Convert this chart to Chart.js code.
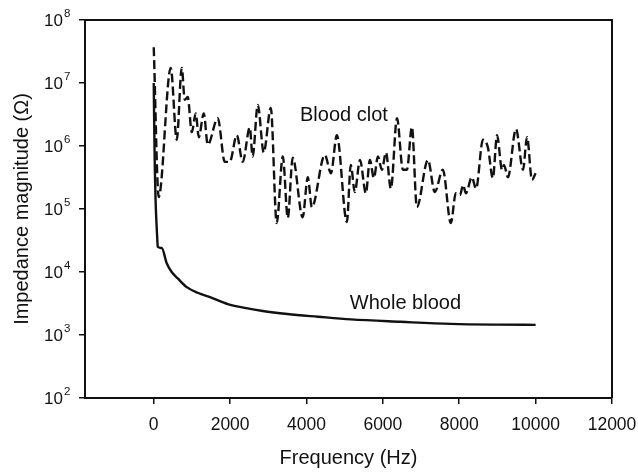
<!DOCTYPE html>
<html>
<head>
<meta charset="utf-8">
<script src="https://cdn.jsdelivr.net/npm/chart.js@4.4.1/dist/chart.umd.min.js"></script>
<style>
  html, body { margin: 0; padding: 0; background: #fff; }
  #wrap { width: 638px; height: 472px; }
</style>
</head>
<body>
<div id="wrap"><canvas id="impedance-chart"></canvas></div>
<script>
// Fréquences (Hz) et impédances (Ohm)
const wholeBloodFreq = [0, 15, 30, 50, 70, 90, 105, 210, 340, 470, 630, 865, 1150, 1520, 1940, 2385, 2855, 3500, 4300, 5160, 6470, 7780, 9000, 10000];
const wholeBloodZ = [1.0e7, 1.6e6, 4.0e5, 1.26e5, 6.3e4, 3.6e4, 2.5e4, 2.4e4, 1.38e4, 1.0e4, 7.9e3, 5.75e3, 4.68e3, 3.9e3, 3.1e3, 2.7e3, 2.4e3, 2.15e3, 1.95e3, 1.77e3, 1.62e3, 1.5e3, 1.46e3, 1.45e3];

const bloodClotFreq = [0, 130, 445, 603, 734, 812, 890, 996, 1100, 1180, 1310, 1415, 1677, 1860, 1990, 2175, 2330, 2515, 2590, 2725, 2880, 3065, 3220, 3380, 3510, 3640, 3900, 4035, 4140, 4480, 4640, 4795, 5057, 5160, 5265, 5400, 5555, 5660, 5765, 5870, 5975, 6080, 6210, 6370, 6525, 6630, 6760, 6890, 7180, 7360, 7570, 7780, 7910, 8020, 8100, 8175, 8330, 8440, 8620, 8750, 8880, 8990, 9120, 9170, 9275, 9485, 9670, 9775, 9905, 10000];
const bloodClotZ = [3.7e7, 1.55e5, 1.74e7, 1.26e6, 1.74e7, 5.4e6, 6.0e6, 1.66e6, 3.3e6, 1.38e6, 3.3e6, 1.05e6, 2.75e6, 5.6e5, 5.6e5, 1.48e6, 5.6e5, 1.95e6, 6.8e5, 4.5e6, 7.9e5, 4.0e6, 6.0e4, 6.8e5, 7.2e4, 6.5e5, 7.4e4, 3.2e5, 1.07e5, 7.2e5, 3.7e5, 1.48e6, 6.2e4, 5.0e5, 1.86e5, 6.0e5, 1.78e5, 6.0e5, 3.1e5, 6.8e5, 4.2e5, 7.9e5, 2.1e5, 2.75e6, 4.2e5, 4.2e5, 2.0e6, 1.07e5, 6.0e5, 1.86e5, 4.2e5, 6.0e4, 1.78e5, 1.66e5, 2.4e5, 1.78e5, 3.2e5, 2.1e5, 1.26e6, 9.5e5, 3.1e5, 1.48e6, 4.2e5, 5.0e5, 3.2e5, 1.86e6, 4.2e5, 1.38e6, 2.9e5, 3.7e5];

const xTicks = [0, 2000, 4000, 6000, 8000, 10000, 12000];
const yExponents = [2, 3, 4, 5, 6, 7, 8];

const xTitle = 'Frequency (Hz)';
const yTitle = 'Impedance magnitude (Ω)';
const clotLabel = 'Blood clot';
const wholeLabel = 'Whole blood';

const FONT = '"Liberation Sans", Arial, Helvetica, sans-serif';
const INK = '#111';

function toPoints(xs, ys) {
    return xs.map((x, i) => ({ x: x, y: ys[i] }));
}

// Plugin : cadre, étiquettes 10^n, titres d'axes et annotations
const decorPlugin = {
    id: 'decor',
    afterDraw(chart) {
        const { ctx, chartArea } = chart;
        const yScale = chart.scales.y;
        const xScale = chart.scales.x;
        ctx.save();

        // cadre haut et droite
        ctx.strokeStyle = INK;
        ctx.lineWidth = 2;
        ctx.beginPath();
        ctx.moveTo(chartArea.left, chartArea.top);
        ctx.lineTo(chartArea.right, chartArea.top);
        ctx.lineTo(chartArea.right, chartArea.bottom);
        ctx.stroke();

        // étiquettes de l'axe Y : 10 avec exposant
        ctx.fillStyle = INK;
        yExponents.forEach(e => {
            const py = yScale.getPixelForValue(Math.pow(10, e));
            ctx.font = '17px ' + FONT;
            ctx.textAlign = 'right';
            ctx.textBaseline = 'middle';
            ctx.fillText('10', 63, py + 1);
            ctx.font = '11.5px ' + FONT;
            ctx.textAlign = 'left';
            ctx.fillText(String(e), 64, py - 6);
        });

        // titres des axes
        ctx.font = '20px ' + FONT;
        ctx.textAlign = 'center';
        ctx.textBaseline = 'middle';
        ctx.fillText(xTitle, (chartArea.left + chartArea.right) / 2, 458);
        ctx.save();
        ctx.translate(22, (chartArea.top + chartArea.bottom) / 2);
        ctx.rotate(-Math.PI / 2);
        ctx.fillText(yTitle, 0, 0);
        ctx.restore();

        // annotations des courbes
        ctx.textAlign = 'left';
        ctx.fillText(clotLabel, xScale.getPixelForValue(3830), yScale.getPixelForValue(3.1e6));
        ctx.fillText(wholeLabel, xScale.getPixelForValue(5135), yScale.getPixelForValue(3.2e3));

        ctx.restore();
    }
};

const ctx = document.getElementById('impedance-chart');

new Chart(ctx, {
    type: 'line',
    data: {
        datasets: [{
            label: wholeLabel,
            data: toPoints(wholeBloodFreq, wholeBloodZ),
            borderColor: INK,
            borderWidth: 2.4,
            pointRadius: 0,
            cubicInterpolationMode: 'monotone',
            fill: false
        }, {
            label: clotLabel,
            data: toPoints(bloodClotFreq, bloodClotZ),
            borderColor: INK,
            borderWidth: 2.4,
            borderDash: [9, 4],
            pointRadius: 0,
            cubicInterpolationMode: 'monotone',
            fill: false
        }]
    },
    options: {
        responsive: true,
        maintainAspectRatio: false,
        animation: false,
        layout: {
            padding: { top: 20, right: 26, left: 0, bottom: 0 }
        },
        plugins: {
            legend: { display: false },
            tooltip: { enabled: false }
        },
        scales: {
            x: {
                type: 'linear',
                min: -1800,
                max: 12000,
                afterBuildTicks: scale => {
                    scale.ticks = xTicks.map(v => ({ value: v }));
                },
                afterFit: scale => {
                    scale.height = 74;
                    scale.paddingLeft = 0;
                    scale.paddingRight = 0;
                },
                ticks: {
                    color: INK,
                    font: { family: FONT, size: 17.5 },
                    padding: 11,
                    maxRotation: 0,
                    callback: value => String(value)
                },
                grid: {
                    display: true,
                    drawOnChartArea: false,
                    drawTicks: true,
                    tickLength: 6,
                    color: INK,
                    lineWidth: 1.5
                },
                border: { display: true, color: INK, width: 2 }
            },
            y: {
                type: 'logarithmic',
                min: 1e2,
                max: 1e8,
                afterBuildTicks: scale => {
                    scale.ticks = yExponents.map(e => ({ value: Math.pow(10, e) }));
                },
                afterFit: scale => {
                    scale.width = 85;
                    scale.paddingTop = 0;
                    scale.paddingBottom = 0;
                },
                ticks: { display: false },
                grid: {
                    display: true,
                    drawOnChartArea: false,
                    drawTicks: true,
                    tickLength: 6,
                    color: INK,
                    lineWidth: 1.5
                },
                border: { display: true, color: INK, width: 2 }
            }
        }
    },
    plugins: [decorPlugin]
});
</script>
</body>
</html>
